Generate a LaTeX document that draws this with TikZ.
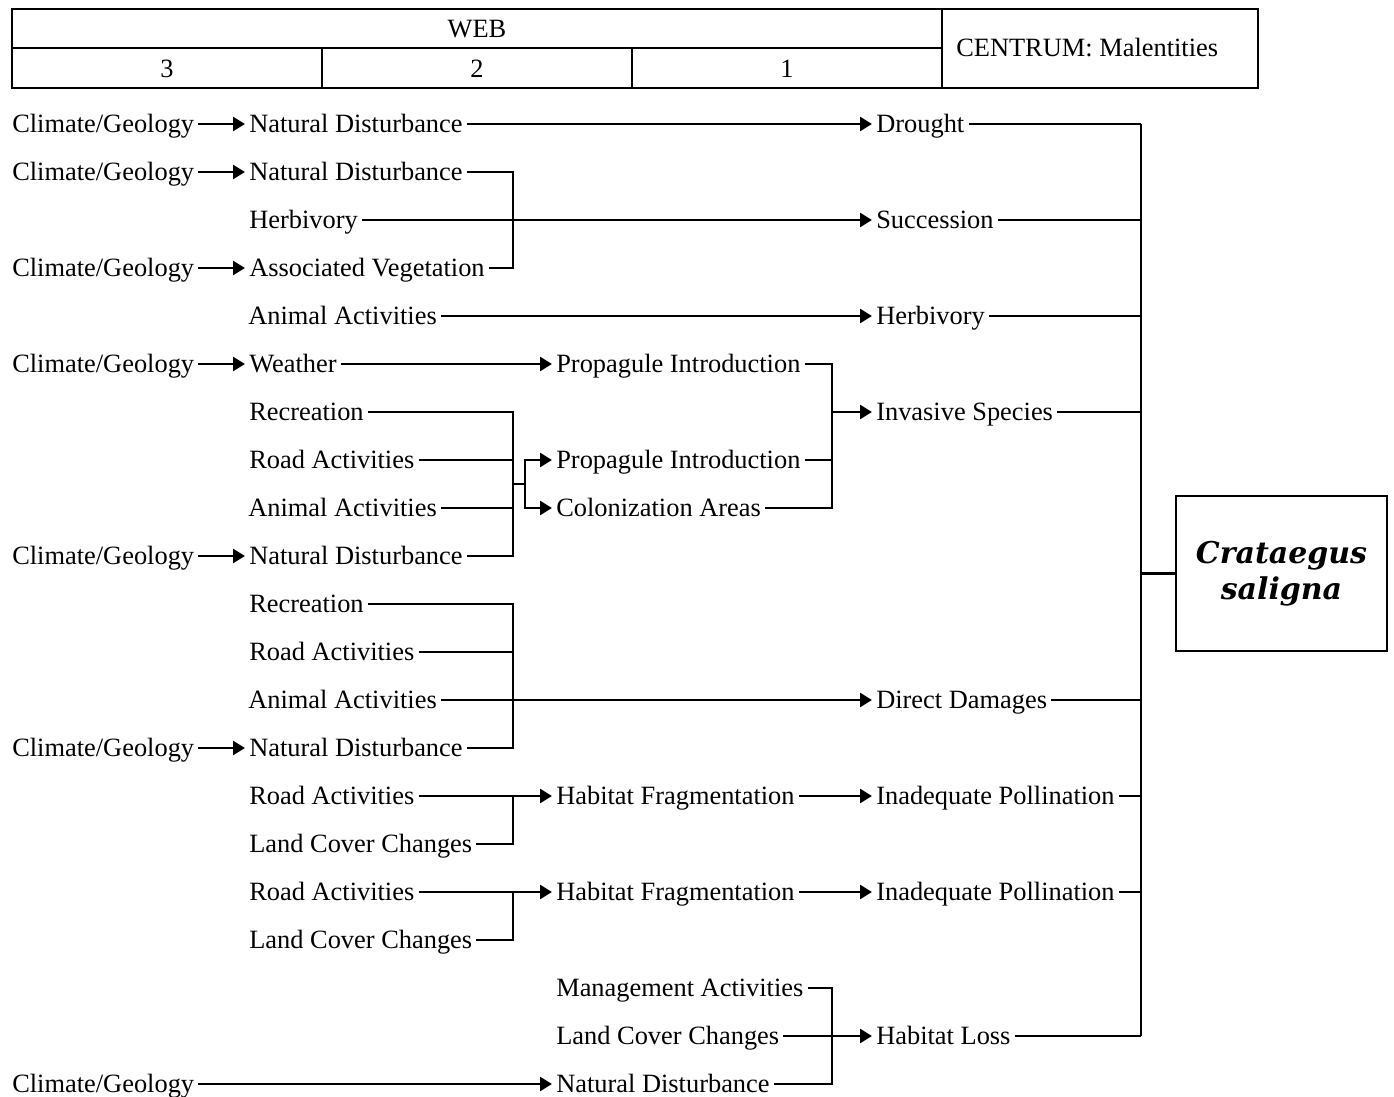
\documentclass[tikz,border=0pt]{standalone}
\usepackage{fontspec}
\setmainfont{Liberation Serif}
\newfontfamily\speciesfont{DejaVu Serif}
\usetikzlibrary{arrows.meta}
\tikzset{>={Triangle[length=6pt,width=7pt]}}
\tikzset{
	lbl/.style={anchor=west, inner xsep=1.5pt, inner ysep=0pt,
			text height=8.6pt, text depth=0pt,
			font=\fontsize{13.2}{15}\selectfont},
	hdr/.style={inner sep=0pt, text height=8.6pt, text depth=0pt,
			font=\fontsize{13.2}{15}\selectfont},
	species/.style={draw, line width=1.3pt, minimum width=105.5pt, minimum height=77.5pt,
			align=center, font=\speciesfont\bfseries\itshape\fontsize{15}{18}\selectfont},
	link/.style={line width=1.3pt}
}

\begin{document}
\begin{tikzpicture}[x=0.5pt, y=-0.5pt, link]
	\useasboundingbox (0,0) rectangle (1394,1097);

	% header table
	\draw (12,9) rectangle (1258,88);
	\draw (12,48) -- (942,48);
	\draw (942,9) -- (942,88);
	\foreach \x in {322,632}
	\draw (\x,48) -- (\x,88);
	\node[hdr] (web) at (477,29) {WEB};
	\node[hdr] (w3) at (167,69) {3};
	\node[hdr] (w2) at (477,69) {2};
	\node[hdr] (w1) at (787,69) {1};
	\node[hdr, anchor=west] (centrum) at (955,48) {CENTRUM: Malentities};

	% bracket and bus columns
	\coordinate (jB) at (513,0);
	\coordinate (jS) at (525,0);
	\coordinate (jC) at (832,0);
	\coordinate (bus) at (1141,0);

	% web 3
	\foreach \n/\y in {c1/124,c2/172,c4/268,c6/364,c10/556,c14/748,c21/1084}
	\node[lbl] (\n) at (8,\y) {Climate/Geology};

	% web 2
	\foreach \n/\y in {nd1/124,nd2/172,nd10/556,nd14/748}
	\node[lbl] (\n) at (245,\y) {Natural Disturbance};
	\node[lbl] (hb1) at (245,220) {Herbivory};
	\node[lbl] (av) at (245,268) {Associated Vegetation};
	\foreach \n/\y in {aa5/316,aa9/508,aa13/700}
	\node[lbl] (\n) at (244,\y) {Animal Activities};
	\node[lbl] (we) at (245,364) {Weather};
	\foreach \n/\y in {re7/412,re11/604}
	\node[lbl] (\n) at (245,\y) {Recreation};
	\foreach \n/\y in {ra8/460,ra12/652,ra15/796,ra17/892}
	\node[lbl] (\n) at (245,\y) {Road Activities};
	\foreach \n/\y in {lc16/844,lc18/940}
	\node[lbl] (\n) at (245,\y) {Land Cover Changes};

	% web 1
	\foreach \n/\y in {pi6/364,pi8/460}
	\node[lbl] (\n) at (552,\y) {Propagule Introduction};
	\node[lbl] (ca) at (552,508) {Colonization Areas};
	\foreach \n/\y in {hf15/796,hf17/892}
	\node[lbl] (\n) at (552,\y) {Habitat Fragmentation};
	\node[lbl] (ma) at (552,988) {Management Activities};
	\node[lbl] (lc20) at (552,1036) {Land Cover Changes};
	\node[lbl] (nd21) at (552,1084) {Natural Disturbance};

	% malentities
	\node[lbl] (dr) at (872,124) {Drought};
	\node[lbl] (su) at (872,220) {Succession};
	\node[lbl] (hb2) at (872,316) {Herbivory};
	\node[lbl] (is) at (872,412) {Invasive Species};
	\node[lbl] (dd) at (872,700) {Direct Damages};
	\foreach \n/\y in {ip15/796,ip17/892}
	\node[lbl] (\n) at (872,\y) {Inadequate Pollination};
	\node[lbl] (hl) at (872,1036) {Habitat Loss};

	\node[species] (cs) at (1281.5,573.5) {Crataegus\\saligna};

	% arrows
	\foreach \a/\b in {c1/nd1,c2/nd2,c4/av,c6/we,c10/nd10,c14/nd14,c21/nd21,
			nd1/dr,hb1/su,aa5/hb2,we/pi6,aa13/dd,ra15/hf15,hf15/ip15,ra17/hf17,hf17/ip17}
	\draw[->] (\a) -- (\b);

	% brackets
	\draw (nd2.east) -- (nd2.east -| jB) -- (av.east -| jB) -- (av.east);

	\draw (re7.east) -- (re7.east -| jB) -- (nd10.east -| jB) -- (nd10.east);
	\foreach \n in {ra8,aa9}
	\draw (\n.east) -- (\n.east -| jB);
	\coordinate (m1) at (513,484);
	\draw (m1) -- (m1 -| jS);
	\draw[->] (m1 -| jS) |- (pi8);
	\draw[->] (m1 -| jS) |- (ca);

	\draw (pi6.east) -- (pi6.east -| jC) -- (ca.east -| jC) -- (ca.east);
	\draw (pi8.east) -- (pi8.east -| jC);
	\draw[->] (is.west -| jC) -- (is);

	\draw (re11.east) -- (re11.east -| jB) -- (nd14.east -| jB) -- (nd14.east);
	\draw (ra12.east) -- (ra12.east -| jB);

	\draw (lc16.east) -- (lc16.east -| jB) -- (ra15.east -| jB);
	\draw (lc18.east) -- (lc18.east -| jB) -- (ra17.east -| jB);

	\draw (ma.east) -- (ma.east -| jC) -- (nd21.east -| jC) -- (nd21.east);
	\draw (lc20.east) -- (lc20.east -| jC);
	\draw[->] (lc20.east -| jC) -- (hl);

	% bus to the species
	\foreach \n in {dr,su,hb2,is,dd,ip15,ip17,hl}
	\draw (\n.east) -- (\n.east -| bus);
	\draw (dr.east -| bus) -- (hl.east -| bus);
	\draw (cs.west -| bus) -- (cs);
\end{tikzpicture}
\end{document}
